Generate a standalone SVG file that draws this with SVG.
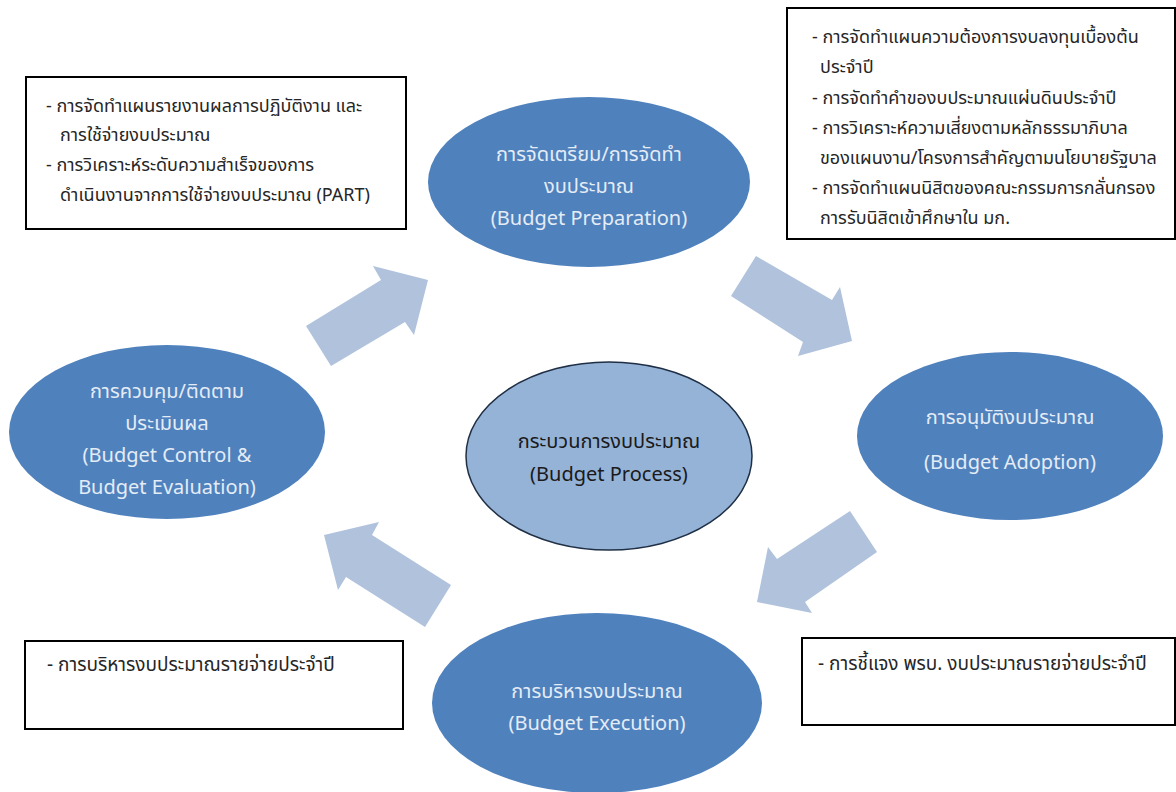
<svg xmlns="http://www.w3.org/2000/svg" width="1176" height="792" viewBox="0 0 1176 792">
<style>
.stage{fill:#4f81bd;}
.stxt{fill:#e4ecf6;font-family:"Noto Sans","Noto Sans Thai","Open Sans",sans-serif;font-size:20px;text-anchor:middle;dominant-baseline:central;}
.ctxt{fill:#1a1a1a;font-family:"Noto Sans","Noto Sans Thai","Open Sans",sans-serif;font-size:20px;text-anchor:middle;dominant-baseline:central;}
.box{fill:#ffffff;stroke:#000000;stroke-width:2;}
.btxt{fill:#262626;font-family:"Noto Sans","Noto Sans Thai","Open Sans",sans-serif;font-size:18px;dominant-baseline:central;}
.btxt2{fill:#262626;font-family:"Noto Sans","Noto Sans Thai","Open Sans",sans-serif;font-size:19px;dominant-baseline:central;}
.arrow{fill:#b0c2dc;}
</style>
<rect width="1176" height="792" fill="#ffffff"/>
<g id="connectors">
<polygon class="arrow" points="306,326 381,280 373,266 428,280 414,335 405,322 331,366"/>
<polygon class="arrow" points="756,256 832,300 840,287 852,341 798,356 803,342 731,296"/>
<polygon class="arrow" points="850,511 877,552 805,602 812,613 757,602 768,547 777,559"/>
<polygon class="arrow" points="379,522 372,535 451,585 425,627 346,577 338,590 324,535"/>
</g>
<g id="node-preparation">
<ellipse class="stage" cx="589" cy="182" rx="161" ry="85"/>
<text class="stxt" x="589" y="153">การจัดเตรียม/การจัดทำ</text>
<text class="stxt" x="589" y="185">งบประมาณ</text>
<text class="stxt" x="589" y="217">(Budget Preparation)</text>
</g>
<g id="node-adoption">
<ellipse class="stage" cx="1010" cy="436" rx="153" ry="84"/>
<text class="stxt" x="1010" y="416">การอนุมัติงบประมาณ</text>
<text class="stxt" x="1010" y="461">(Budget Adoption)</text>
</g>
<g id="node-execution">
<ellipse class="stage" cx="597" cy="703" rx="165" ry="90"/>
<text class="stxt" x="597" y="690">การบริหารงบประมาณ</text>
<text class="stxt" x="597" y="722">(Budget Execution)</text>
</g>
<g id="node-control">
<ellipse class="stage" cx="167" cy="432" rx="158" ry="87"/>
<text class="stxt" x="167" y="390">การควบคุม/ติดตาม</text>
<text class="stxt" x="167" y="422">ประเมินผล</text>
<text class="stxt" x="167" y="454">(Budget Control &amp;</text>
<text class="stxt" x="167" y="486">Budget Evaluation)</text>
</g>
<g id="node-process">
<ellipse cx="609" cy="456" rx="143" ry="94" fill="#95b3d7" stroke="#1f2f45" stroke-width="1.5"/>
<text class="ctxt" x="609" y="440">กระบวนการงบประมาณ</text>
<text class="ctxt" x="609" y="473">(Budget Process)</text>
</g>
<g id="box-control">
<rect class="box" x="26" y="77" width="380" height="152"/>
<text class="btxt" x="46" y="105">- การจัดทำแผนรายงานผลการปฏิบัติงาน และ</text>
<text class="btxt" x="60" y="134">การใช้จ่ายงบประมาณ</text>
<text class="btxt" x="46" y="164">- การวิเคราะห์ระดับความสำเร็จของการ</text>
<text class="btxt" x="60" y="194">ดำเนินงานจากการใช้จ่ายงบประมาณ (PART)</text>
</g>
<g id="box-preparation">
<rect class="box" x="787" y="8" width="388" height="231"/>
<text class="btxt" x="812" y="36">-  การจัดทำแผนความต้องการงบลงทุนเบื้องต้น</text>
<text class="btxt" x="820" y="66">ประจำปี</text>
<text class="btxt" x="812" y="97">- การจัดทำคำของบประมาณแผ่นดินประจำปี</text>
<text class="btxt" x="812" y="127">- การวิเคราะห์ความเสี่ยงตามหลักธรรมาภิบาล</text>
<text class="btxt" x="820" y="157">ของแผนงาน/โครงการสำคัญตามนโยบายรัฐบาล</text>
<text class="btxt" x="812" y="187">- การจัดทำแผนนิสิตของคณะกรรมการกลั่นกรอง</text>
<text class="btxt" x="820" y="217">การรับนิสิตเข้าศึกษาใน มก.</text>
</g>
<g id="box-execution">
<rect class="box" x="25" y="641" width="378" height="88"/>
<text class="btxt2" x="47" y="664">- การบริหารงบประมาณรายจ่ายประจำปี</text>
</g>
<g id="box-adoption">
<rect class="box" x="802" y="638" width="373" height="87"/>
<text class="btxt2" x="818" y="663">- การชี้แจง พรบ. งบประมาณรายจ่ายประจำปี</text>
</g>
</svg>
